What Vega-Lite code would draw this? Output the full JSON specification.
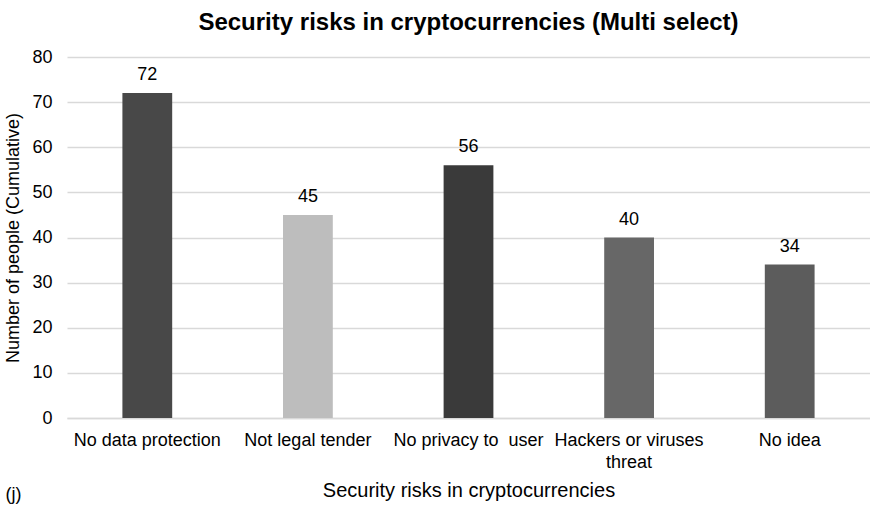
{
  "$schema": "https://vega.github.io/schema/vega-lite/v6.json",
  "width": 803,
  "height": 361,
  "autosize": {"type": "none"},
  "padding": {"left": 67, "top": 57, "right": 0, "bottom": 87},
  "background": "white",
  "config": {
    "font": "Liberation Sans",
    "view": {"stroke": null}
  },
  "title": {
    "text": "Security risks in cryptocurrencies (Multi select)",
    "fontSize": 24,
    "fontWeight": "bold",
    "font": "Liberation Sans",
    "color": "#000000",
    "anchor": "middle",
    "offset": 13
  },
  "data": {
    "values": [
      {"risk": "No data protection", "people": 72},
      {"risk": "Not legal tender", "people": 45},
      {"risk": "No privacy to  user", "people": 56},
      {"risk": "Hackers or viruses threat", "people": 40},
      {"risk": "No idea", "people": 34}
    ]
  },
  "layer": [
    {
      "mark": {"type": "bar"},
      "encoding": {
        "x": {
          "field": "risk",
          "type": "nominal",
          "sort": null,
          "scale": {"paddingInner": 0.69, "paddingOuter": 0.345},
          "axis": {
            "title": "Security risks in cryptocurrencies",
            "titleFontSize": 20,
            "titleFontWeight": "normal",
            "titleColor": "#000000",
            "titlePadding": 9,
            "labelAngle": 0,
            "labelFontSize": 18,
            "labelColor": "#000000",
            "labelPadding": 13,
            "labelLineHeight": 22,
            "labelExpr": "datum.label == 'Hackers or viruses threat' ? ['Hackers or viruses', 'threat'] : replace(datum.label, '  ', ' \u00a0')",
            "ticks": false,
            "domain": true,
            "domainColor": "#d9d9d9",
            "domainWidth": 1.5
          }
        },
        "y": {
          "field": "people",
          "type": "quantitative",
          "scale": {"domain": [0, 80], "nice": false},
          "axis": {
            "values": [0, 10, 20, 30, 40, 50, 60, 70, 80],
            "title": "Number of people (Cumulative)",
            "titleFontSize": 18,
            "titleFontWeight": "normal",
            "titleColor": "#000000",
            "titlePadding": 9,
            "labelFontSize": 18,
            "labelColor": "#000000",
            "labelPadding": 15,
            "ticks": false,
            "domain": false,
            "grid": true,
            "gridColor": "#d9d9d9",
            "gridWidth": 1.5
          }
        },
        "color": {
          "field": "risk",
          "type": "nominal",
          "scale": {
            "domain": ["No data protection", "Not legal tender", "No privacy to  user", "Hackers or viruses threat", "No idea"],
            "range": ["#484848", "#bdbdbd", "#3a3a3a", "#676767", "#5c5c5c"]
          },
          "legend": null
        }
      }
    },
    {
      "mark": {"type": "text", "dy": -13, "baseline": "alphabetic", "fontSize": 18, "color": "#000000"},
      "encoding": {
        "x": {
          "field": "risk",
          "type": "nominal",
          "sort": null,
          "axis": {
            "orient": "top",
            "title": "(j)",
            "titleFontSize": 18,
            "titleFontWeight": "normal",
            "titleColor": "#000000",
            "titleAnchor": "start",
            "titleAngle": 0,
            "titleX": -62,
            "titleY": 442,
            "titleBaseline": "alphabetic",
            "labels": false,
            "ticks": false,
            "domain": false,
            "grid": false
          }
        },
        "y": {"field": "people", "type": "quantitative"},
        "text": {"field": "people", "type": "quantitative"}
      }
    }
  ],
  "resolve": {"axis": {"x": "independent"}}
}
